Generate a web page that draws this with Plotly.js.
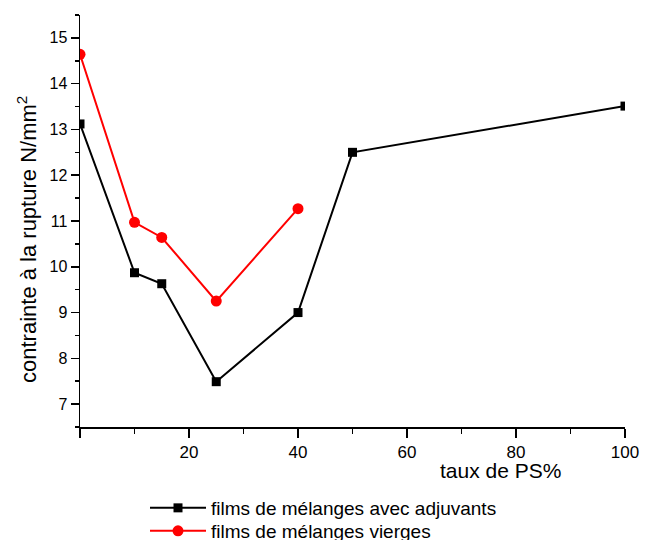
<!DOCTYPE html>
<html>
<head>
<meta charset="utf-8">
<script src="https://cdn.plot.ly/plotly-3.0.1.min.js"></script>
<style>html,body{margin:0;padding:0;background:#fff;}#chart{width:645px;height:540px;}</style>
</head>
<body>
<div id="chart"></div>
<script>
const xAdj = [0, 10, 15, 25, 40, 50, 100];
const yAdj = [13.12, 9.87, 9.63, 7.49, 9.0, 12.5, 13.51];
const xVierge = [0, 10, 15, 25, 40];
const yVierge = [14.64, 10.97, 10.64, 9.25, 11.27];
const nameAdj = 'films de mélanges avec adjuvants';
const nameVierge = 'films de mélanges vierges';
const xTickVals = [0, 20, 40, 60, 80, 100];
const xTickText = ['', '20', '40', '60', '80', '100'];
const yTickVals = [7, 8, 9, 10, 11, 12, 13, 14, 15];

const font = 'Liberation Sans, Arial, sans-serif';

const traces = [
  {x: xAdj, y: yAdj, name: nameAdj, mode: 'lines+markers', type: 'scatter', legend: 'legend',
   line: {color: '#000', width: 2}, marker: {symbol: 'square', size: 9, color: '#000'}},
  {x: xVierge, y: yVierge, name: nameVierge, mode: 'lines+markers', type: 'scatter', legend: 'legend2',
   line: {color: '#ff0000', width: 2}, marker: {symbol: 'circle', size: 11, color: '#ff0000'}}
];

const legStyle = {
  x: (145-80)/545, xanchor: 'left', yanchor: 'middle',
  font: {family: font, size: 19, color: '#000'}, bgcolor: 'rgba(0,0,0,0)',
  itemwidth: 56, borderwidth: 0
};

const layout = {
  width: 645, height: 540,
  margin: {l: 80, r: 20, t: 15, b: 113, autoexpand: false},
  paper_bgcolor: '#fff', plot_bgcolor: '#fff',
  font: {family: font, color: '#000', size: 16},
  showlegend: true,
  legend: Object.assign({}, legStyle, {y: (427-508)/412}),
  legend2: Object.assign({}, legStyle, {y: (427-531)/412}),
  xaxis: {range: [0, 100], showgrid: false, zeroline: false, showline: true, linecolor: '#000', linewidth: 1.5,
          ticks: 'outside', ticklen: 9, tickwidth: 1.5, tickcolor: '#000',
          tickmode: 'array', tickvals: xTickVals, ticktext: xTickText,
          tickfont: {family: font, size: 17},
          minor: {dtick: 10, ticks: 'outside', ticklen: 5, tickwidth: 1.5, tickcolor: '#000', showgrid: false}},
  yaxis: {range: [6.5, 15.5], showgrid: false, zeroline: false, showline: true, linecolor: '#000', linewidth: 1.5,
          ticks: 'outside', ticklen: 8, tickwidth: 1.5, tickcolor: '#000',
          tickmode: 'array', tickvals: yTickVals,
          tickfont: {family: font, size: 16},
          minor: {dtick: 0.5, ticks: 'outside', ticklen: 4, tickwidth: 1.5, tickcolor: '#000', showgrid: false}},
  annotations: [
    {xref: 'paper', yref: 'paper', x: (500-80)/545, y: (427-470)/412, text: 'taux de PS%',
     showarrow: false, font: {family: font, size: 21, color: '#000'}, xanchor: 'center', yanchor: 'middle'},
    {xref: 'paper', yref: 'paper', x: (27-80)/545, y: (427-240)/412, text: 'contrainte à la rupture N/mm<sup>2</sup>',
     textangle: -90, showarrow: false, font: {family: font, size: 22, color: '#000'}, xanchor: 'center', yanchor: 'middle'}
  ]
};

Plotly.newPlot('chart', traces, layout, {displayModeBar: false, staticPlot: true});
</script>
</body>
</html>
